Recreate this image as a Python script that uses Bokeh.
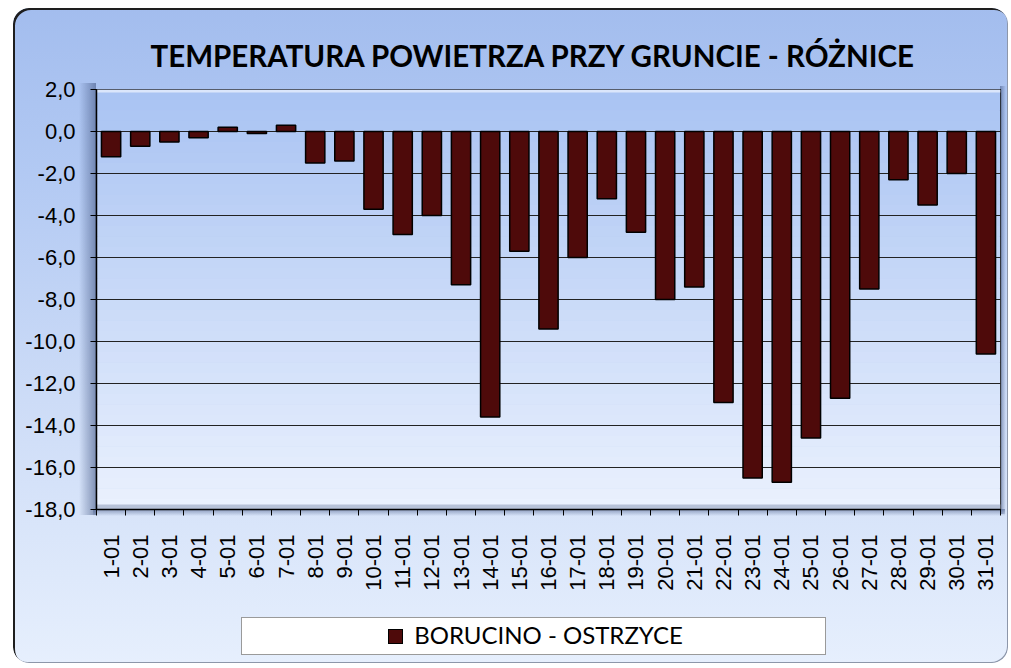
import math
import numpy as np
from bokeh.plotting import figure
from bokeh.models import (FixedTicker, BoxAnnotation, Range1d)
from bokeh.embed import file_html
from bokeh.resources import INLINE

# ---- data ----
days = ["1-01", "2-01", "3-01", "4-01", "5-01", "6-01", "7-01", "8-01", "9-01", "10-01",
        "11-01", "12-01", "13-01", "14-01", "15-01", "16-01", "17-01", "18-01", "19-01", "20-01",
        "21-01", "22-01", "23-01", "24-01", "25-01", "26-01", "27-01", "28-01", "29-01", "30-01",
        "31-01"]
diff = [-1.2, -0.7, -0.5, -0.3, 0.2, -0.1, 0.3, -1.5, -1.4, -3.7,
        -4.9, -4.0, -7.3, -13.6, -5.7, -9.4, -6.0, -3.2, -4.8, -8.0,
        -7.4, -12.9, -16.5, -16.7, -14.6, -12.7, -7.5, -2.3, -3.5, -2.0,
        -10.6]
series_name = "BORUCINO - OSTRZYCE"
y_ticks = [2, 0, -2, -4, -6, -8, -10, -12, -14, -16, -18]
y_labels = ["2,0", "0,0", "-2,0", "-4,0", "-6,0", "-8,0", "-10,0", "-12,0", "-14,0", "-16,0", "-18,0"]
title_text = "TEMPERATURA POWIETRZA PRZY GRUNCIE - RÓŻNICE"

xpos = list(range(1, len(days) + 1))
bar_color = "#4e0a0a"

W, H = 995, 655
p = figure(width=W, height=H, x_range=Range1d(0.5, len(days) + 0.5),
           y_range=Range1d(min(y_ticks), max(y_ticks)),
           output_backend="svg", toolbar_location=None,
           min_border_left=83, min_border_right=8, min_border_top=81, min_border_bottom=154,
           background_fill_color=None, border_fill_color=None,
           outline_line_color="black", outline_line_width=1.2)

# chart-area decoration (rounded frame, gradient, 3D shadows, legend box + swatch) via CSS
layers = [
    f"linear-gradient({bar_color},{bar_color}) 376px 622px / 13px 13px no-repeat",
    "linear-gradient(#000,#000) 375px 621px / 15px 15px no-repeat",
    "linear-gradient(#ffffff,#ffffff) 229px 610px / 583px 36px no-repeat",
    "linear-gradient(#9a9a9a,#9a9a9a) 228px 609px / 585px 38px no-repeat",
    "linear-gradient(to right, rgba(70,90,135,0), rgba(70,90,135,0.6)) 66px 75px / 17px 432px no-repeat",
    "linear-gradient(to bottom, rgba(70,90,135,0.55), rgba(70,90,135,0)) 80px 501px / 912px 7px no-repeat",
    "linear-gradient(to right, rgba(70,90,135,0.6), rgba(70,90,135,0)) 987px 78px / 6px 428px no-repeat",
    "linear-gradient(to bottom, #a3bdee 0%, #b2c9f3 25%, #cddcf7 60%, #e6effd 100%)",
]
p.styles = {
    "margin-left": "13px",
    "margin-top": "8px",
    "border-radius": "16px",
    "background": ", ".join(layers),
    "box-shadow": "inset 2px 2px 0 #1e1e1e, inset -1px -1px 0 #8d97aa",
}

# plot area gradient bands
ncol = 40
edges = np.linspace(max(y_ticks), min(y_ticks), ncol + 1)
c0 = np.array([0xAA, 0xC4, 0xF3])
c1 = np.array([0xEA, 0xF1, 0xFE])
for i in range(ncol):
    t = i / (ncol - 1)
    c = (c0 * (1 - t) + c1 * t).astype(int)
    p.add_layout(BoxAnnotation(top=edges[i], bottom=edges[i + 1],
                               fill_color="#%02x%02x%02x" % tuple(c), fill_alpha=1,
                               line_color=None, level="image"))
# bevel at the bottom of the plot area and highlight at the top
yspan = max(y_ticks) - min(y_ticks)
px = yspan / 420.0
p.add_layout(BoxAnnotation(bottom=min(y_ticks), top=min(y_ticks) + 5 * px,
                           fill_color="#b7c2d8", fill_alpha=1, line_color=None, level="image"))
p.add_layout(BoxAnnotation(bottom=max(y_ticks) - 3 * px, top=max(y_ticks),
                           fill_color="#dbe6fb", fill_alpha=1, line_color=None, level="image"))

# title
p.title.text = title_text
p.title.text_font = "Lato"
p.title.text_font_style = "bold"
p.title.text_font_size = "29.5px"
p.title.text_color = "black"
p.title.align = "left"
p.title.offset = 54
p.title.standoff = 34

# axes
p.yaxis.ticker = FixedTicker(ticks=y_ticks)
p.yaxis.major_label_overrides = dict(zip(y_ticks, y_labels))
p.yaxis.major_tick_out = 6
p.yaxis.major_tick_in = 0
p.yaxis.minor_tick_line_color = None
p.yaxis.axis_line_color = "black"
p.yaxis.axis_line_width = 1.5
p.yaxis.major_tick_line_color = "black"
p.yaxis.major_label_text_font = "Liberation Sans"
p.yaxis.major_label_text_font_size = "22px"
p.yaxis.major_label_text_color = "black"
p.yaxis.major_label_standoff = 15

p.xaxis.ticker = FixedTicker(ticks=xpos, minor_ticks=[v - 0.5 for v in xpos] + [xpos[-1] + 0.5])
p.xaxis.major_label_overrides = dict(zip(xpos, days))
p.xaxis.major_tick_line_color = None
p.xaxis.major_tick_out = 0
p.xaxis.major_tick_in = 0
p.xaxis.minor_tick_out = 6
p.xaxis.minor_tick_in = 0
p.xaxis.minor_tick_line_color = "black"
p.xaxis.axis_line_color = "black"
p.xaxis.axis_line_width = 1.5
p.xaxis.major_label_orientation = math.pi / 2
p.xaxis.major_label_text_font = "Liberation Sans"
p.xaxis.major_label_text_font_size = "22px"
p.xaxis.major_label_text_color = "black"
p.xaxis.major_label_standoff = 19

# legend text (series name) drawn as the x-axis label, centred below the tick labels
p.xaxis.axis_label = series_name
p.xaxis.axis_label_text_font = "Lato"
p.xaxis.axis_label_text_font_size = "24px"
p.xaxis.axis_label_text_font_style = "normal"
p.xaxis.axis_label_text_color = "black"
p.xaxis.axis_label_standoff = 26

p.xgrid.grid_line_color = None
p.ygrid.grid_line_color = "#222222"
p.ygrid.grid_line_width = 1.2

bars = p.vbar(x=xpos, top=diff, bottom=0, width=0.66,
              fill_color=bar_color, line_color="black", line_width=1.5)

open("out.html", "w").write(file_html(p, INLINE))
